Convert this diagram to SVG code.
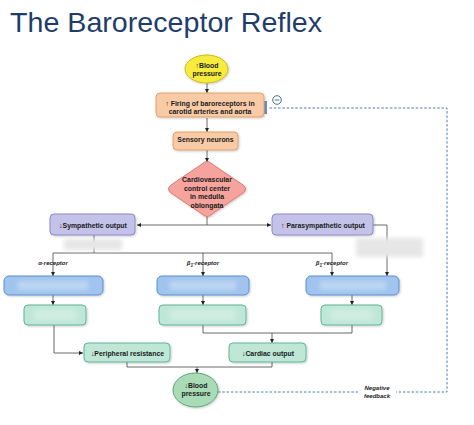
<svg xmlns="http://www.w3.org/2000/svg" width="474" height="425" viewBox="0 0 474 425">
<style>
.t{font-family:"Liberation Sans",Arial,sans-serif;font-weight:bold;font-size:6.9px;fill:#1a1a1a;text-anchor:middle}
.r{font-family:"Liberation Sans",Arial,sans-serif;font-weight:bold;font-style:italic;font-size:6px;fill:#222;text-anchor:middle}
.ln{fill:none;stroke:#444;stroke-width:0.8}
.orange{fill:#f8cba6;stroke:#e3a06a;stroke-width:1}
.purple{fill:#c5c2ea;stroke:#8c87c9;stroke-width:1}
.blue{fill:#a0c4ee;stroke:#5a8fcf;stroke-width:1}
.green{fill:#bfe7d7;stroke:#5fb49a;stroke-width:1}
.blur{fill:#d0e2f6}
.gblur{fill:#d8f0e6}
</style>
<defs>
<marker id="ah" viewBox="0 0 6 6" refX="6" refY="3" markerWidth="5" markerHeight="5" orient="auto">
<path d="M0,0 L6,3 L0,6 z" fill="#222"/>
</marker>
<filter id="sh" x="-10%" y="-10%" width="130%" height="140%">
<feDropShadow dx="1" dy="1" stdDeviation="0.8" flood-color="#000" flood-opacity="0.2"/>
</filter>
<filter id="bl" x="-20%" y="-50%" width="140%" height="200%">
<feGaussianBlur stdDeviation="2"/>
</filter>
</defs>
<rect width="474" height="425" fill="#ffffff"/>
<text x="10" y="32" font-family="'Liberation Sans',Arial,sans-serif" font-size="28" fill="#1f3d6b" textLength="312" lengthAdjust="spacingAndGlyphs">The Baroreceptor Reflex</text>

<g id="connectors">
<line class="ln" x1="207" y1="83" x2="207" y2="93" marker-end="url(#ah)"/>
<line class="ln" x1="207" y1="118" x2="207" y2="132" marker-end="url(#ah)"/>
<line class="ln" x1="207" y1="150" x2="207" y2="162" marker-end="url(#ah)"/>
<line class="ln" x1="207" y1="217" x2="207" y2="225"/>
<line class="ln" x1="207" y1="225" x2="137" y2="225" marker-end="url(#ah)"/>
<line class="ln" x1="207" y1="225" x2="271" y2="225" marker-end="url(#ah)"/>
<polyline class="ln" points="94,235 94,253"/>
<polyline class="ln" points="53,253 332,253"/>
<line class="ln" x1="53" y1="253" x2="53" y2="276" marker-end="url(#ah)"/>
<line class="ln" x1="203" y1="253" x2="203" y2="276" marker-end="url(#ah)"/>
<line class="ln" x1="332" y1="253" x2="332" y2="276" marker-end="url(#ah)"/>
<polyline class="ln" points="373,225 387,225 387,276" marker-end="url(#ah)"/>
<line class="ln" x1="53" y1="295" x2="53" y2="305" marker-end="url(#ah)"/>
<line class="ln" x1="203" y1="295" x2="203" y2="305" marker-end="url(#ah)"/>
<line class="ln" x1="352" y1="295" x2="352" y2="305" marker-end="url(#ah)"/>
<polyline class="ln" points="54,325 54,353 83,353" marker-end="url(#ah)"/>
<polyline class="ln" points="203,325 203,333 352,333 352,325"/>
<line class="ln" x1="272" y1="333" x2="272" y2="343" marker-end="url(#ah)"/>
<polyline class="ln" points="127,362 127,367 272,367 272,362"/>
<line class="ln" x1="197" y1="367" x2="197" y2="373" marker-end="url(#ah)"/>
<polyline points="218,392 447,392 447,108 268,108" fill="none" stroke="#4a7cb3" stroke-width="1" stroke-dasharray="2.5,1.8"/>
<rect x="264" y="101" width="3" height="13" fill="#6a9ad0"/>
<circle cx="277" cy="100" r="4.3" fill="#fff" stroke="#2f5c8f" stroke-width="0.9"/>
<line x1="274.8" y1="100" x2="279.2" y2="100" stroke="#2f5c8f" stroke-width="0.9"/>
</g>

<g id="neg-label">
<rect x="358" y="382" width="38" height="18" fill="#fff"/>
<text class="r" x="377" y="390">Negative</text>
<text class="r" x="377" y="397.5">feedback</text>
</g>

<g id="bp-top">
<ellipse cx="206.5" cy="69" rx="21.5" ry="14" fill="#f7ec3c" stroke="#c9b820" stroke-width="1" filter="url(#sh)"/>
<text class="t" x="207" y="67.5">↑Blood</text>
<text class="t" x="207" y="75.5">pressure</text>
</g>

<g id="firing">
<rect class="orange" x="156" y="93" width="108" height="24" rx="4" filter="url(#sh)"/>
<text class="t" x="210" y="105.5">↑ Firing of baroreceptors in</text>
<text class="t" x="210" y="113.5">carotid arteries and aorta</text>
</g>

<g id="sensory">
<rect class="orange" x="173" y="132" width="65" height="18" rx="4" filter="url(#sh)"/>
<text class="t" x="205.5" y="141.5">Sensory neurons</text>
</g>

<g id="cvcc">
<path d="M202,164 Q207,159 212,164 L243,185 Q248,189 243,193 L212,214 Q207,219 202,214 L171,193 Q166,189 171,185 Z" fill="#f5a39c" stroke="#dc7a72" stroke-width="1" filter="url(#sh)"/>
<text class="t" x="207" y="182">Cardiovascular</text>
<text class="t" x="207" y="190.5">control center</text>
<text class="t" x="207" y="199">in medulla</text>
<text class="t" x="207" y="207.5">oblongata</text>
</g>

<g id="sympathetic">
<rect class="purple" x="50" y="214" width="85" height="21" rx="4" filter="url(#sh)"/>
<text class="t" x="93" y="227.5">↓Sympathetic output</text>
</g>

<g id="parasympathetic">
<rect class="purple" x="272" y="214" width="101" height="21" rx="4" filter="url(#sh)"/>
<text class="t" x="323" y="227.5">↑ Parasympathetic output</text>
</g>

<g id="hidden-1">
<rect x="64" y="239" width="58" height="11" fill="#e6e6e6" filter="url(#bl)"/>
</g>
<g id="hidden-2">
<rect x="356" y="238" width="67" height="19" fill="#e6e6e6" filter="url(#bl)"/>
</g>

<g id="rec-labels">
<text class="r" x="53" y="265">α-receptor</text>
<text class="r" x="203" y="265">β<tspan font-size="4.5" dy="1.5">1</tspan><tspan dy="-1.5">-receptor</tspan></text>
<text class="r" x="332" y="265">β<tspan font-size="4.5" dy="1.5">1</tspan><tspan dy="-1.5">-receptor</tspan></text>
</g>

<g id="blue-1">
<rect class="blue" x="4" y="276" width="99" height="19" rx="5" filter="url(#sh)"/>
<rect class="blur" x="18" y="281" width="70" height="9" filter="url(#bl)" opacity="0.6"/>
</g>
<g id="blue-2">
<rect class="blue" x="157" y="276" width="92" height="19" rx="5" filter="url(#sh)"/>
<rect class="blur" x="170" y="281" width="66" height="9" filter="url(#bl)" opacity="0.6"/>
</g>
<g id="blue-3">
<rect class="blue" x="306" y="276" width="93" height="19" rx="5" filter="url(#sh)"/>
<rect class="blur" x="320" y="281" width="66" height="9" filter="url(#bl)" opacity="0.6"/>
</g>

<g id="green-1">
<rect class="green" x="24" y="305" width="62" height="20" rx="4" filter="url(#sh)"/>
<rect class="gblur" x="34" y="310" width="42" height="10" filter="url(#bl)" opacity="0.7"/>
</g>
<g id="green-2">
<rect class="green" x="159" y="305" width="87" height="20" rx="4" filter="url(#sh)"/>
<rect class="gblur" x="170" y="310" width="65" height="10" filter="url(#bl)" opacity="0.7"/>
</g>
<g id="green-3">
<rect class="green" x="321" y="305" width="61" height="20" rx="4" filter="url(#sh)"/>
<rect class="gblur" x="331" y="310" width="41" height="10" filter="url(#bl)" opacity="0.7"/>
</g>

<g id="peripheral">
<rect class="green" x="84" y="343" width="86" height="19" rx="4" filter="url(#sh)"/>
<text class="t" x="127.5" y="355.5">↓Peripheral resistance</text>
</g>

<g id="cardiac">
<rect class="green" x="229" y="343" width="77" height="19" rx="4" filter="url(#sh)"/>
<text class="t" x="268" y="355.5">↓Cardiac output</text>
</g>

<g id="bp-bottom">
<ellipse cx="195.5" cy="390" rx="22.5" ry="17" fill="#a9dcb6" stroke="#5aa874" stroke-width="1" filter="url(#sh)"/>
<text class="t" x="196" y="387.5">↓Blood</text>
<text class="t" x="196" y="395.5">pressure</text>
</g>
</svg>
